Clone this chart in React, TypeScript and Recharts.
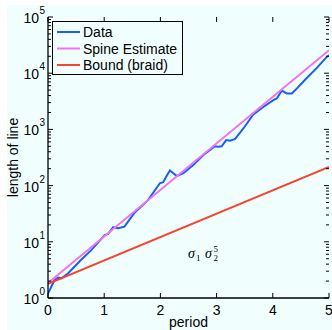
import React from 'react';
import { LineChart, Line, XAxis, YAxis, Legend, ReferenceDot } from 'recharts';

// Measured line length of the stirred curve against the stirring period
const periods = [0, 0.03, 0.06, 0.12, 0.18, 0.24, 0.36, 0.59, 0.77, 1.01, 1.07, 1.16, 1.25, 1.36, 1.54, 1.78, 1.99, 2.05, 2.12, 2.17, 2.29, 2.41, 2.59, 2.76, 2.97, 3.03, 3.09, 3.17, 3.24, 3.33, 3.48, 3.65, 3.83, 4.01, 4.07, 4.16, 4.25, 4.34, 4.43, 4.6, 4.78, 4.96, 5];
const lengths = [1.2, 1.38, 1.6, 2.1, 2.3, 2.25, 2.75, 4.8, 7.1, 13.2, 13.8, 18.2, 17.4, 18.6, 33, 55, 110, 115, 155, 186, 148, 166, 234, 347, 500, 490, 500, 646, 630, 676, 1050, 1820, 2510, 3310, 3550, 4900, 4370, 4370, 5370, 8130, 12300, 19500, 20900];

// Exponential growth estimates (straight lines on the log axis)
const spinePeriods = [0, 5];
const spineLengths = [1.85, 25700];
const boundPeriods = [0, 5];
const boundLengths = [1.78, 214];

const seriesNames = ['Data', 'Spine Estimate', 'Bound (braid)'];

const xTicks = [0, 1, 2, 3, 4, 5];
const yTicks: number[] = [];
for (let e = 0; e < 5; e++) {
  for (let m = 1; m < 10; m++) yTicks.push(m * Math.pow(10, e));
}
yTicks.push(100000);

const dataSeries = periods.map((p, i) => ({ period: p, value: lengths[i] }));
const spineSeries = spinePeriods.map((p, i) => ({ period: p, value: spineLengths[i] }));
const boundSeries = boundPeriods.map((p, i) => ({ period: p, value: boundLengths[i] }));

const FONT = '"Liberation Sans", Arial, Helvetica, sans-serif';
const SERIF = '"Liberation Serif", "DejaVu Serif", serif';
const PLOT_LEFT = 48;
const PLOT_RIGHT = 329;
const PLOT_TOP = 17;
const PLOT_BOTTOM = 298;

const BLUE = '#1a5ef2';
const MAGENTA = '#f272f2';
const RED = '#fa4230';

const YTick = (props: any) => {
  const { y, payload } = props;
  const lg = Math.log10(payload.value);
  const exp = Math.round(lg);
  const major = Math.abs(lg - exp) < 1e-9;
  const len = major ? 5 : 3;
  return (
    <g>
      <line x1={PLOT_LEFT} x2={PLOT_LEFT + len} y1={y} y2={y} stroke="#000" strokeWidth={1} />
      <line x1={PLOT_RIGHT} x2={PLOT_RIGHT - len} y1={y} y2={y} stroke="#000" strokeWidth={1} />
      {major && (
        <text x={39} y={y + 6} textAnchor="end" fontSize={14} fontFamily={FONT} fill="#000">10</text>
      )}
      {major && (
        <text x={39.5} y={y - 3} textAnchor="start" fontSize={10} fontFamily={FONT} fill="#000">{exp}</text>
      )}
    </g>
  );
};

const XTick = (props: any) => {
  const { x, payload } = props;
  return (
    <g>
      <line x1={x} x2={x} y1={PLOT_BOTTOM} y2={PLOT_BOTTOM - 5} stroke="#000" strokeWidth={1} />
      <line x1={x} x2={x} y1={PLOT_TOP} y2={PLOT_TOP + 5} stroke="#000" strokeWidth={1} />
      <text x={x} y={PLOT_BOTTOM + 17} textAnchor="middle" fontSize={14} fontFamily={FONT} fill="#000">
        {payload.value}
      </text>
    </g>
  );
};

const LegendBox = (props: any) => {
  const items = [...(props.payload || [])].sort(
    (a: any, b: any) => seriesNames.indexOf(a.value) - seriesNames.indexOf(b.value)
  );
  return (
    <svg width={131} height={54} style={{ display: 'block' }}>
      <rect x={0.5} y={0.5} width={130} height={53} fill="none" stroke="#000" strokeWidth={1} />
      {items.map((entry: any, i: number) => {
        const cy = 11 + i * 16.5;
        return (
          <g key={entry.value}>
            <line x1={5} x2={28} y1={cy} y2={cy} stroke={entry.color} strokeWidth={2} />
            <text x={31} y={cy + 5} fontSize={14} fontFamily={FONT} fill="#000">{entry.value}</text>
          </g>
        );
      })}
    </svg>
  );
};

const YLabel = (props: any) => {
  const { viewBox } = props;
  const cy = viewBox.y + viewBox.height / 2;
  return (
    <text
      x={18}
      y={cy}
      transform={`rotate(-90, 18, ${cy})`}
      textAnchor="middle"
      fontSize={14}
      fontFamily={FONT}
      fill="#000"
    >
      length of line
    </text>
  );
};

const BraidWord = (props: any) => {
  const { cx, cy } = props;
  return (
    <g fontFamily={SERIF} fill="#000">
      <text x={cx} y={cy} fontSize={14} fontStyle="italic">σ</text>
      <text x={cx + 8} y={cy + 3} fontSize={9}>1</text>
      <text x={cx + 17} y={cy} fontSize={14} fontStyle="italic">σ</text>
      <text x={cx + 25.5} y={cy - 6} fontSize={9}>5</text>
      <text x={cx + 25.5} y={cy + 3} fontSize={9}>2</text>
    </g>
  );
};

export default function App() {
  return (
    <div style={{ position: 'absolute', left: 0, top: 0, width: 332, height: 330 }}>
      <div style={{ position: 'absolute', left: 7, top: 5, width: 325, height: 325, background: '#f0fffe' }} />
      <div style={{ position: 'absolute', left: 0, top: 0 }}>
        <LineChart width={332} height={330} margin={{ top: PLOT_TOP, right: 3, bottom: 0, left: 0 }}>
          <XAxis
            dataKey="period"
            type="number"
            domain={[0, 5]}
            ticks={xTicks}
            interval={0}
            height={32}
            tickSize={0}
            tick={<XTick />}
            axisLine={{ stroke: '#000', strokeWidth: 1.3 }}
            allowDataOverflow
            label={{ value: 'period', position: 'insideBottom', offset: 3, fontSize: 14, fontFamily: FONT, fill: '#000' }}
          />
          <XAxis xAxisId="top" orientation="top" type="number" domain={[0, 5]} height={0} tick={false} tickLine={false} axisLine={{ stroke: '#000', strokeWidth: 1.3 }} />
          <YAxis
            type="number"
            scale="log"
            domain={[1, 100000]}
            ticks={yTicks}
            interval={0}
            width={48}
            tickSize={0}
            tick={<YTick />}
            allowDataOverflow
            axisLine={{ stroke: '#000', strokeWidth: 1.3 }}
            label={<YLabel />}
          />
          <YAxis yAxisId="right" orientation="right" type="number" domain={[0, 1]} width={0} tick={false} tickLine={false} axisLine={{ stroke: '#000', strokeWidth: 1.3 }} />
          <Legend
            layout="horizontal"
            verticalAlign="middle"
            align="center"
            wrapperStyle={{ position: 'absolute', left: 52, top: 21, width: 131, height: 54 }}
            content={<LegendBox />}
          />
          <Line name="Data" data={dataSeries} dataKey="value" type="linear" stroke={BLUE} strokeWidth={2} dot={false} isAnimationActive={false} />
          <Line name="Spine Estimate" data={spineSeries} dataKey="value" type="linear" stroke={MAGENTA} strokeWidth={2} dot={false} isAnimationActive={false} />
          <Line name="Bound (braid)" data={boundSeries} dataKey="value" type="linear" stroke={RED} strokeWidth={2} dot={false} isAnimationActive={false} />
          <ReferenceDot x={2.49} y={5.1} r={0} shape={<BraidWord />} ifOverflow="visible" />
        </LineChart>
      </div>
    </div>
  );
}
